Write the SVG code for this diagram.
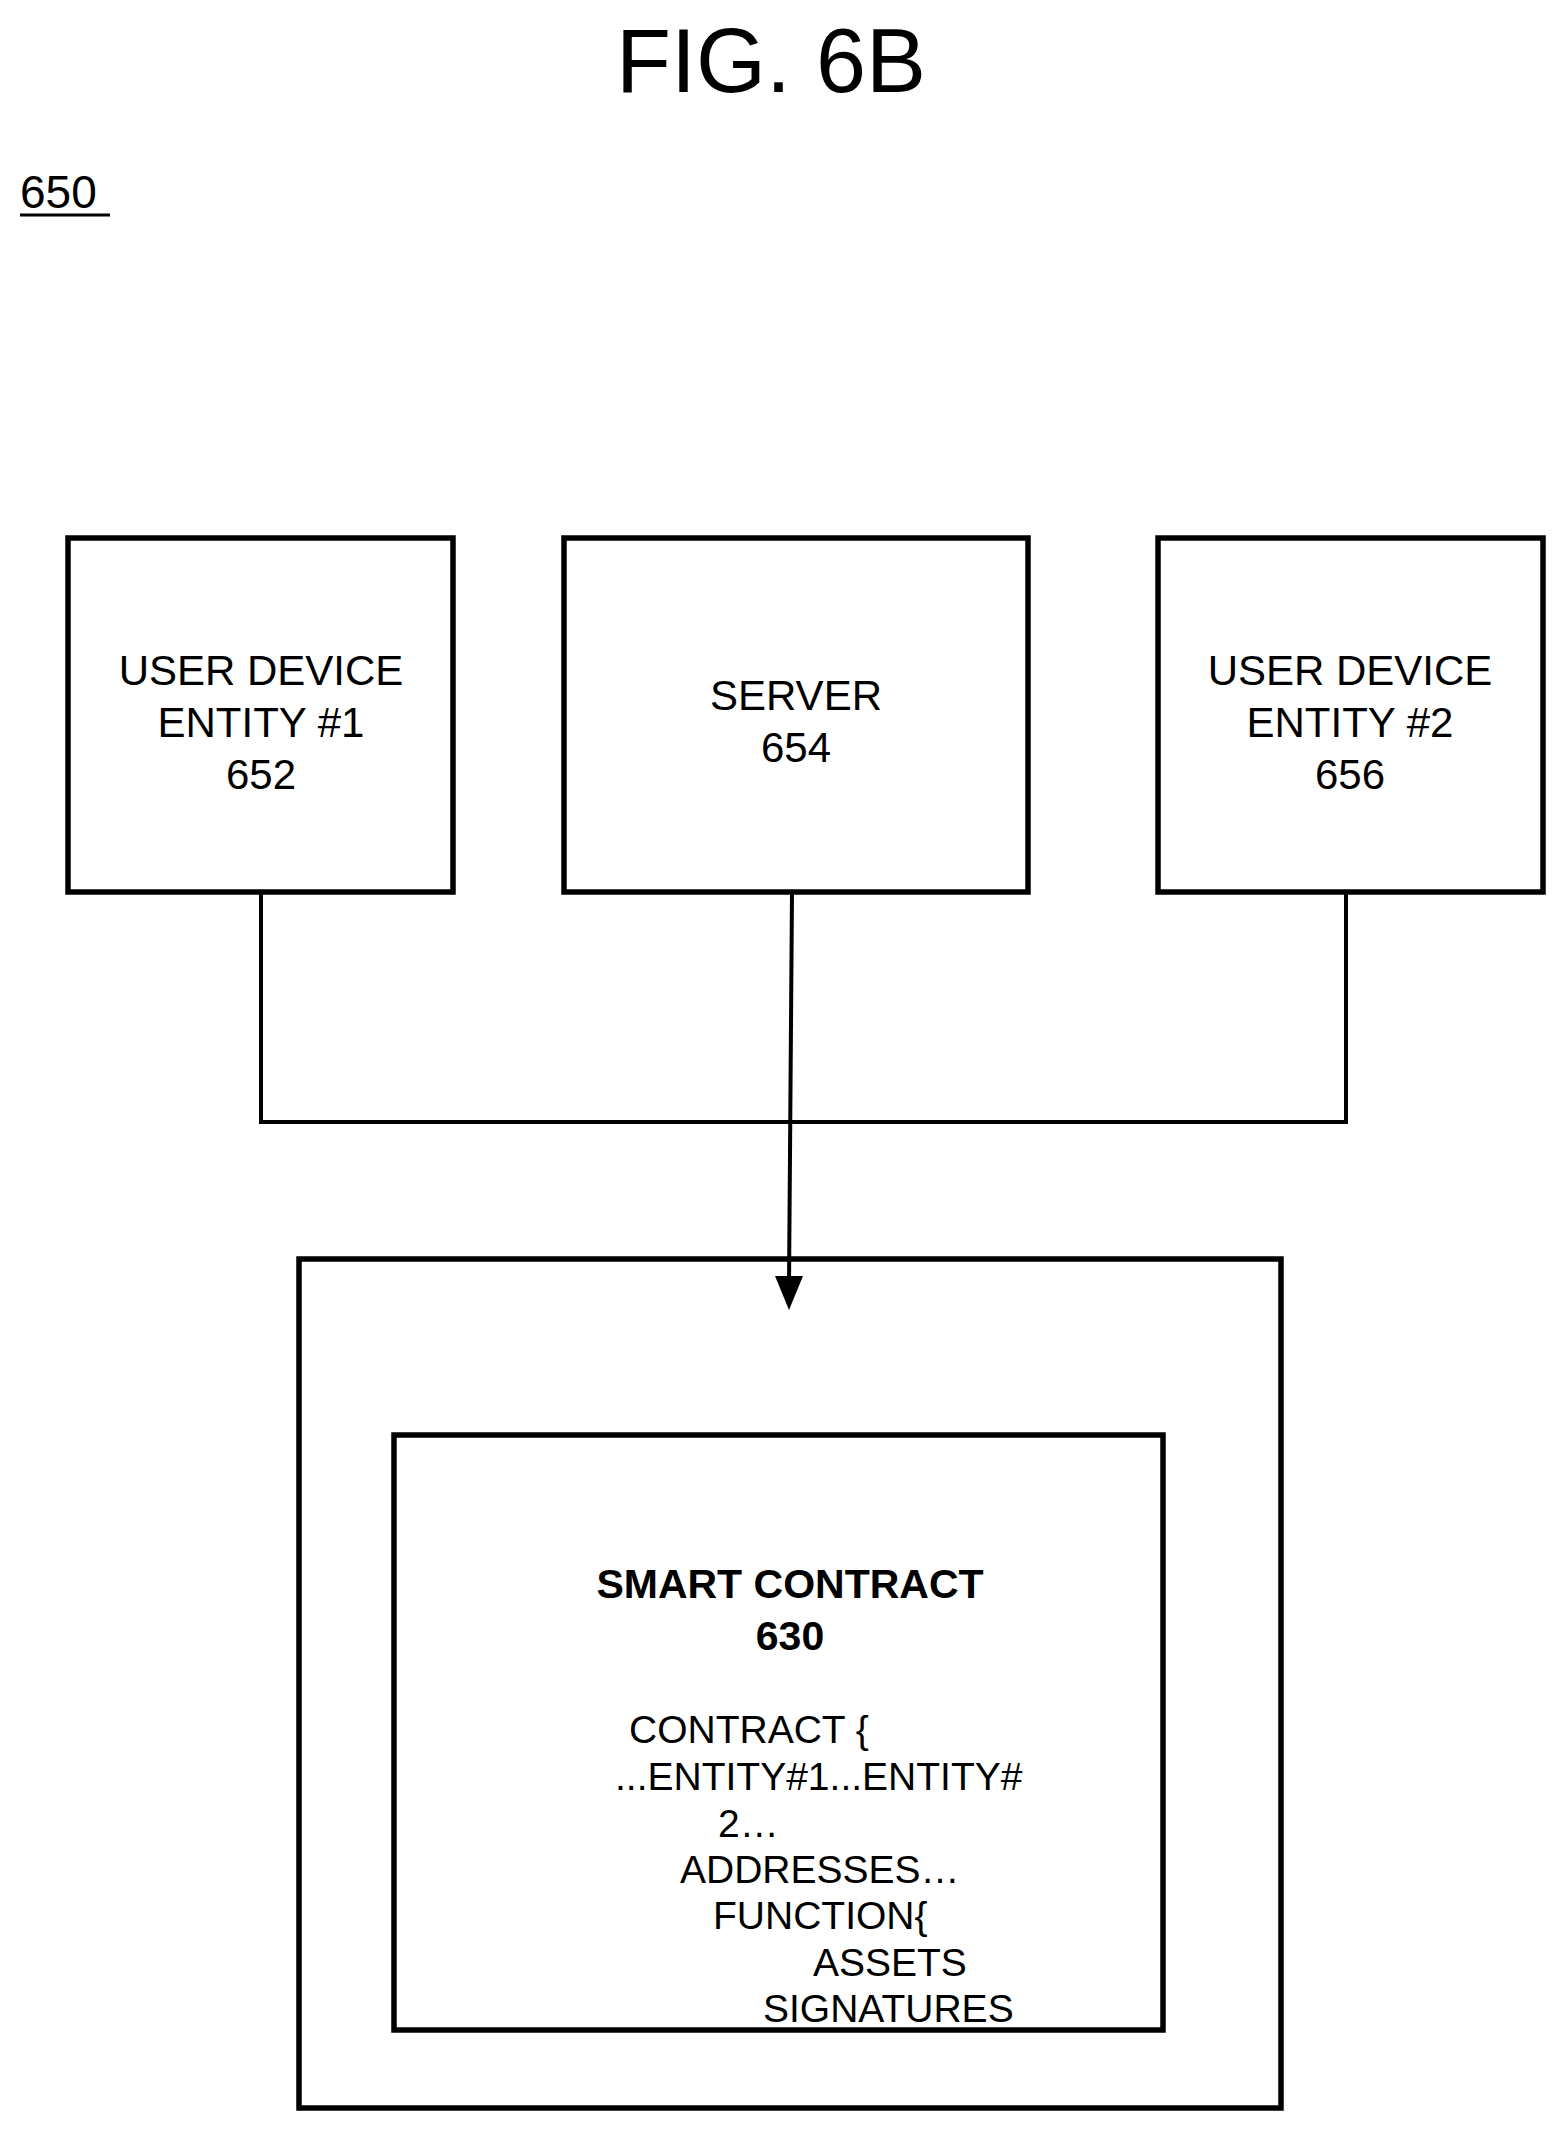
<svg xmlns="http://www.w3.org/2000/svg" width="1561" height="2130" viewBox="0 0 1561 2130">
<defs>
<style>
text{font-family:"Liberation Sans",Arial,sans-serif;fill:#000}
.box{fill:none;stroke:#000;stroke-width:5.5}
.lbl{font-size:42px;text-anchor:middle}
.code{font-size:39px}
.ln{fill:none;stroke:#000;stroke-width:4}
</style>
</defs>
<rect width="1561" height="2130" fill="#fff"/>
<text x="771" y="92" font-size="90" text-anchor="middle">FIG. 6B</text>
<text x="20" y="208" font-size="46">650</text>
<line x1="20" y1="215" x2="110" y2="215" stroke="#000" stroke-width="3"/>
<g id="n652"><rect class="box" x="68" y="538" width="385" height="354"/>
<text class="lbl" x="261" y="685">USER DEVICE</text><text class="lbl" x="261" y="737">ENTITY #1</text><text class="lbl" x="261" y="789">652</text></g>
<g id="n654"><rect class="box" x="564" y="538" width="464" height="354"/>
<text class="lbl" x="796" y="710">SERVER</text><text class="lbl" x="796" y="762">654</text></g>
<g id="n656"><rect class="box" x="1158" y="538" width="385" height="354"/>
<text class="lbl" x="1350" y="685">USER DEVICE</text><text class="lbl" x="1350" y="737">ENTITY #2</text><text class="lbl" x="1350" y="789">656</text></g>
<g id="outer"><rect class="box" x="299" y="1259" width="982" height="849"/></g>
<g id="n630"><rect class="box" x="394" y="1435" width="769" height="595"/>
<text x="790" y="1598" font-size="41" font-weight="bold" text-anchor="middle">SMART CONTRACT</text>
<text x="790" y="1650" font-size="41" font-weight="bold" text-anchor="middle">630</text>
<text class="code" x="629" y="1743">CONTRACT {</text>
<text class="code" x="615" y="1790">...ENTITY#1...ENTITY#</text>
<text class="code" x="718" y="1837">2…</text>
<text class="code" x="680" y="1883">ADDRESSES…</text>
<text class="code" x="713" y="1929">FUNCTION{</text>
<text class="code" x="813" y="1976">ASSETS</text>
<text class="code" x="763" y="2022">SIGNATURES</text></g>
<g id="connectors">
<polyline class="ln" points="261,892 261,1122 1346,1122 1346,892"/>
<line class="ln" x1="792" y1="892" x2="789" y2="1285"/>
<polygon points="775,1276 803,1276 789,1310" fill="#000"/>
</g>
</svg>
